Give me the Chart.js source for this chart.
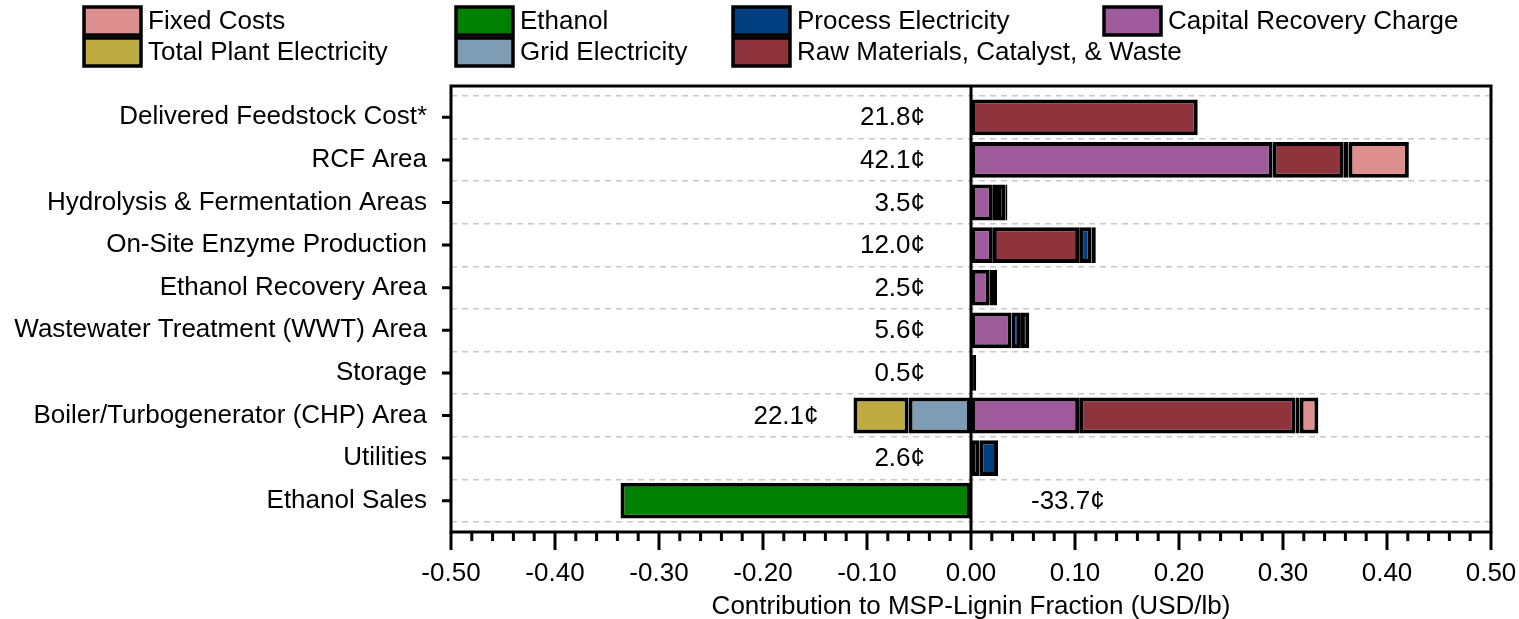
<!DOCTYPE html>
<html>
<head>
<meta charset="utf-8">
<script src="https://cdn.jsdelivr.net/npm/chart.js@4.4.0/dist/chart.umd.min.js"></script>
<style>
    html, body { margin: 0; padding: 0; background: #fff; }
    #wrap { position: relative; width: 1519px; height: 619px; }
</style>
</head>
<body>
<div id="wrap"><canvas id="chart"></canvas></div>
<script>
// Categories (top to bottom)
const categories = [
    'Delivered Feedstock Cost*',
    'RCF Area',
    'Hydrolysis & Fermentation Areas',
    'On-Site Enzyme Production',
    'Ethanol Recovery Area',
    'Wastewater Treatment (WWT) Area',
    'Storage',
    'Boiler/Turbogenerator (CHP) Area',
    'Utilities',
    'Ethanol Sales'
];

// Series values (USD/lb)
const capitalRecovery       = [null, 0.290, 0.021, 0.021, 0.018, 0.039, 0.002, 0.104, 0.008, null];
const rawMaterials          = [0.218, 0.068, 0.004, 0.083, null, null, null, 0.208, null, null];
const processElectricity    = [null, 0.005, 0.008, 0.012, 0.007, 0.009, 0.003, 0.004, 0.018, null];
const fixedCosts            = [null, 0.058, 0.002, 0.004, null, 0.008, null, 0.018, null, null];
const gridElectricity       = [null, null, null, null, null, null, null, -0.060, null, null];
const totalPlantElectricity = [null, null, null, null, null, null, null, -0.053, null, null];
const ethanol               = [null, null, null, null, null, null, null, null, null, -0.337];

// Net contribution labels (cents)
const netCents = [21.8, 42.1, 3.5, 12.0, 2.5, 5.6, 0.5, 22.1, 2.6, -33.7];

// X axis range
const xMin = -0.5;
const xMax = 0.5;
const xMajorStep = 0.1;
const xMinorStep = 0.02;

// Legend order (as shown, row by row)
const legendOrder = [
    'Fixed Costs', 'Ethanol', 'Process Electricity', 'Capital Recovery Charge',
    'Total Plant Electricity', 'Grid Electricity', 'Raw Materials, Catalyst, & Waste'
];

const FONT = "'Liberation Sans', Arial, sans-serif";
const FONT_SIZE = 26;

const COLORS = {
    fixed: '#dc8f8e',
    ethanol: '#008000',
    process: '#003f7f',
    capital: '#9e5a9b',
    plant: '#bdab41',
    grid: '#7e9db5',
    raw: '#8f333d'
};

const bar = (label, data, color) => ({
    label,
    data,
    backgroundColor: color,
    borderColor: '#000',
    borderWidth: 4,
    borderSkipped: false,
    barPercentage: 0.84,
    categoryPercentage: 1
});

// Frame, axis ticks, zero line, value labels and legend
const FRAME_PAD = 10;
const decorPlugin = {
    id: 'decor',
    beforeDatasetsDraw(chart) {
        const { ctx, chartArea: a, scales: { x } } = chart;
        const x0 = x.getPixelForValue(0);
        ctx.save();
        ctx.strokeStyle = '#000';
        ctx.lineWidth = 3;
        ctx.beginPath();
        ctx.moveTo(x0, a.top - FRAME_PAD);
        ctx.lineTo(x0, a.bottom + FRAME_PAD);
        ctx.stroke();
        ctx.restore();
    },
    afterDatasetsDraw(chart) {
        const { ctx, chartArea: a, scales: { x, y } } = chart;
        const top = a.top - FRAME_PAD;
        const bottom = a.bottom + FRAME_PAD;
        ctx.save();
        ctx.strokeStyle = '#000';
        ctx.lineWidth = 3;
        ctx.strokeRect(a.left, top, a.right - a.left, bottom - top);

        // x ticks: major and minor, outside
        ctx.beginPath();
        const n = Math.round((xMax - xMin) / xMinorStep);
        for (let i = 0; i <= n; i++) {
            const v = xMin + i * xMinorStep;
            const px = x.getPixelForValue(v);
            const major = i % Math.round(xMajorStep / xMinorStep) === 0;
            ctx.moveTo(px, bottom);
            ctx.lineTo(px, bottom + (major ? 18 : 9));
        }
        ctx.stroke();

        // y ticks at category centres
        ctx.beginPath();
        categories.forEach((c, i) => {
            const py = y.getPixelForValue(i);
            ctx.moveTo(a.left - 9, py);
            ctx.lineTo(a.left, py);
        });
        ctx.stroke();

        // value labels
        const x0 = x.getPixelForValue(0);
        ctx.fillStyle = '#000';
        ctx.font = `${FONT_SIZE}px ${FONT}`;
        ctx.textBaseline = 'middle';
        categories.forEach((c, i) => {
            let negLeft = null, hasPos = false;
            chart.data.datasets.forEach((ds, d) => {
                const v = ds.data[i];
                if (v == null) return;
                const el = chart.getDatasetMeta(d).data[i];
                if (v < 0) {
                    const left = Math.min(el.x, el.base);
                    negLeft = negLeft === null ? left : Math.min(negLeft, left);
                } else {
                    hasPos = true;
                }
            });
            const text = netCents[i].toFixed(1) + '\u00a2';
            const py = y.getPixelForValue(i) + 1;
            if (negLeft !== null && hasPos) {
                ctx.textAlign = 'right';
                ctx.fillText(text, negLeft - 35, py);
            } else if (negLeft !== null) {
                ctx.textAlign = 'left';
                ctx.fillText(text, x0 + 60, py);
            } else {
                ctx.textAlign = 'right';
                ctx.fillText(text, x0 - 46, py);
            }
        });
        ctx.restore();
    },
    afterDraw(chart) {
        const { ctx } = chart;
        const colX = [84, 456, 733, 1104];
        const rowY = [7, 38];
        const boxW = 57, boxH = 28;
        ctx.save();
        ctx.font = `${FONT_SIZE}px ${FONT}`;
        ctx.textAlign = 'left';
        ctx.textBaseline = 'middle';
        legendOrder.forEach((name, k) => {
            const ds = chart.data.datasets.find(d => d.label === name);
            const bx = colX[k % 4];
            const by = rowY[Math.floor(k / 4)];
            ctx.fillStyle = ds.backgroundColor;
            ctx.fillRect(bx, by, boxW, boxH);
            ctx.strokeStyle = '#000';
            ctx.lineWidth = 3.5;
            ctx.strokeRect(bx, by, boxW, boxH);
            ctx.fillStyle = '#000';
            ctx.fillText(name, bx + boxW + 7, by + boxH / 2 + 1);
        });
        ctx.restore();
    }
};

new Chart(document.getElementById('chart'), {
    type: 'bar',
    data: {
        labels: categories,
        datasets: [
            bar('Capital Recovery Charge', capitalRecovery, COLORS.capital),
            bar('Raw Materials, Catalyst, & Waste', rawMaterials, COLORS.raw),
            bar('Process Electricity', processElectricity, COLORS.process),
            bar('Fixed Costs', fixedCosts, COLORS.fixed),
            bar('Grid Electricity', gridElectricity, COLORS.grid),
            bar('Total Plant Electricity', totalPlantElectricity, COLORS.plant),
            bar('Ethanol', ethanol, COLORS.ethanol)
        ]
    },
    options: {
        indexAxis: 'y',
        responsive: true,
        maintainAspectRatio: false,
        animation: false,
        layout: { padding: { top: 96, right: 28, left: 0, bottom: 0 } },
        plugins: {
            legend: { display: false },
            tooltip: { enabled: false }
        },
        scales: {
            x: {
                type: 'linear',
                stacked: true,
                min: xMin,
                max: xMax,
                grid: { display: false, drawTicks: false },
                border: { display: false },
                ticks: {
                    stepSize: xMajorStep,
                    padding: 36,
                    maxRotation: 0,
                    color: '#000',
                    font: { family: FONT, size: FONT_SIZE },
                    callback: v => Number(v).toFixed(2)
                },
                title: {
                    display: true,
                    text: 'Contribution to MSP-Lignin Fraction (USD/lb)',
                    color: '#000',
                    font: { family: FONT, size: FONT_SIZE },
                    padding: { top: 0, bottom: -3 }
                },
                afterFit: s => {
                    s.height = 97;
                    s.paddingLeft = 0;
                    s.paddingRight = 0;
                }
            },
            y: {
                stacked: true,
                grid: {
                    offset: true,
                    drawTicks: false,
                    color: '#c8c8c8',
                    lineWidth: 1.5
                },
                border: { display: false, dash: [6, 5] },
                ticks: {
                    padding: 24,
                    color: '#000',
                    font: { family: FONT, size: FONT_SIZE }
                },
                afterFit: s => {
                    s.width = 451;
                    s.paddingTop = 0;
                    s.paddingBottom = 0;
                }
            }
        }
    },
    plugins: [decorPlugin]
});
</script>
</body>
</html>
